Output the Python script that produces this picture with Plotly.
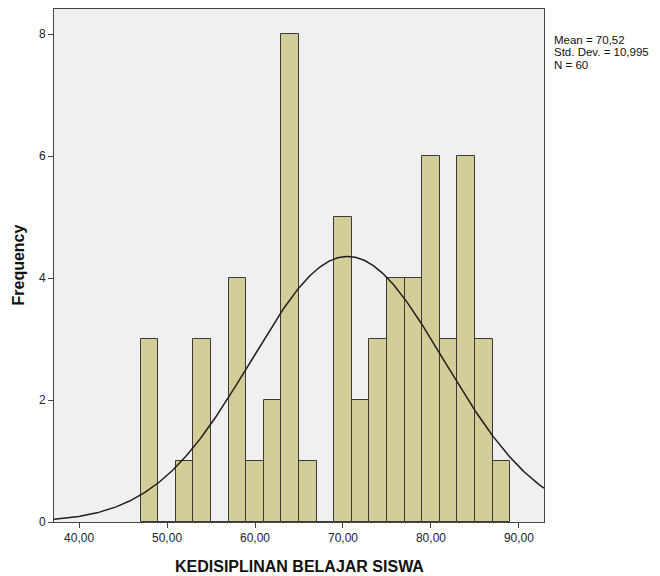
import numpy as np
import plotly.graph_objects as go

# Data
bin_starts = [47, 49, 51, 53, 55, 57, 59, 61, 63, 65, 67, 69, 71, 73, 75, 77, 79, 81, 83, 85, 87]
counts = [3, 0, 1, 3, 0, 4, 1, 2, 8, 1, 0, 5, 2, 3, 4, 4, 6, 3, 6, 3, 1]
bin_width = 2
mean_val = 70.52
std_val = 10.995
n_val = 60
stats_lines = ["Mean = 70,52", "Std. Dev. = 10,995", "N = 60"]
x_title = "KEDISIPLINAN BELAJAR SISWA"
y_title = "Frequency"
x_tick_vals = [40, 50, 60, 70, 80, 90]
x_tick_text = ["40,00", "50,00", "60,00", "70,00", "80,00", "90,00"]
y_tick_vals = [0, 2, 4, 6, 8]
x_range = [37.15, 92.85]
y_range = [0, 8.41]

centers = [b + bin_width / 2 for b in bin_starts]

xs = np.linspace(x_range[0], x_range[1], 400)
ys = n_val * bin_width / (std_val * np.sqrt(2 * np.pi)) * np.exp(-0.5 * ((xs - mean_val) / std_val) ** 2)

fig = go.Figure()
fig.add_trace(go.Bar(
    x=centers, y=counts, width=bin_width,
    marker=dict(color="#D3CE97", line=dict(color="#3A3A3A", width=1)),
    hoverinfo="skip",
))
fig.add_trace(go.Scatter(
    x=xs, y=ys, mode="lines",
    line=dict(color="#1E1E1E", width=1.5),
    hoverinfo="skip",
))

W, H = 652, 568
ML, MR, MT, MB = 46, 116, 1, 54

annotations = []
for i, line in enumerate(stats_lines):
    annotations.append(dict(
        xref="paper", yref="paper", x=1, y=1, xanchor="left", yanchor="middle",
        xshift=8, yshift=-(31 + 12.3 * i), align="left", showarrow=False,
        text=line, font=dict(size=11.5, color="#111111"),
    ))
annotations.append(dict(
    xref="paper", yref="paper", x=0.5, y=0, xanchor="center", yanchor="middle",
    yshift=-44.5, showarrow=False, text="<b>" + x_title + "</b>",
    font=dict(size=16, color="#111111"),
))
annotations.append(dict(
    xref="paper", yref="paper", x=0, y=0.5, xanchor="center", yanchor="middle",
    xshift=-36, showarrow=False, text="<b>" + y_title + "</b>", textangle=-90,
    font=dict(size=16, color="#111111"),
))

fig.update_layout(
    width=W, height=H,
    margin=dict(l=ML, r=MR, t=MT, b=MB),
    paper_bgcolor="white",
    plot_bgcolor="#F0F0F0",
    showlegend=False,
    bargap=0,
    font=dict(family="Liberation Sans, Arial, sans-serif", size=12, color="#222222"),
    xaxis=dict(
        range=x_range, tickvals=x_tick_vals, ticktext=x_tick_text,
        showgrid=False, zeroline=False, showline=True, linecolor="#444444", linewidth=1,
        mirror=True, ticks="outside", ticklen=5, tickcolor="#444444",
        tickfont=dict(size=12, color="#222222"),
    ),
    yaxis=dict(
        range=y_range, tickvals=y_tick_vals,
        showgrid=False, zeroline=False, showline=True, linecolor="#444444", linewidth=1,
        mirror=True, ticks="outside", ticklen=5, tickcolor="#444444",
        tickfont=dict(size=12, color="#222222"),
    ),
    annotations=annotations,
)

fig.write_html("out.html")
